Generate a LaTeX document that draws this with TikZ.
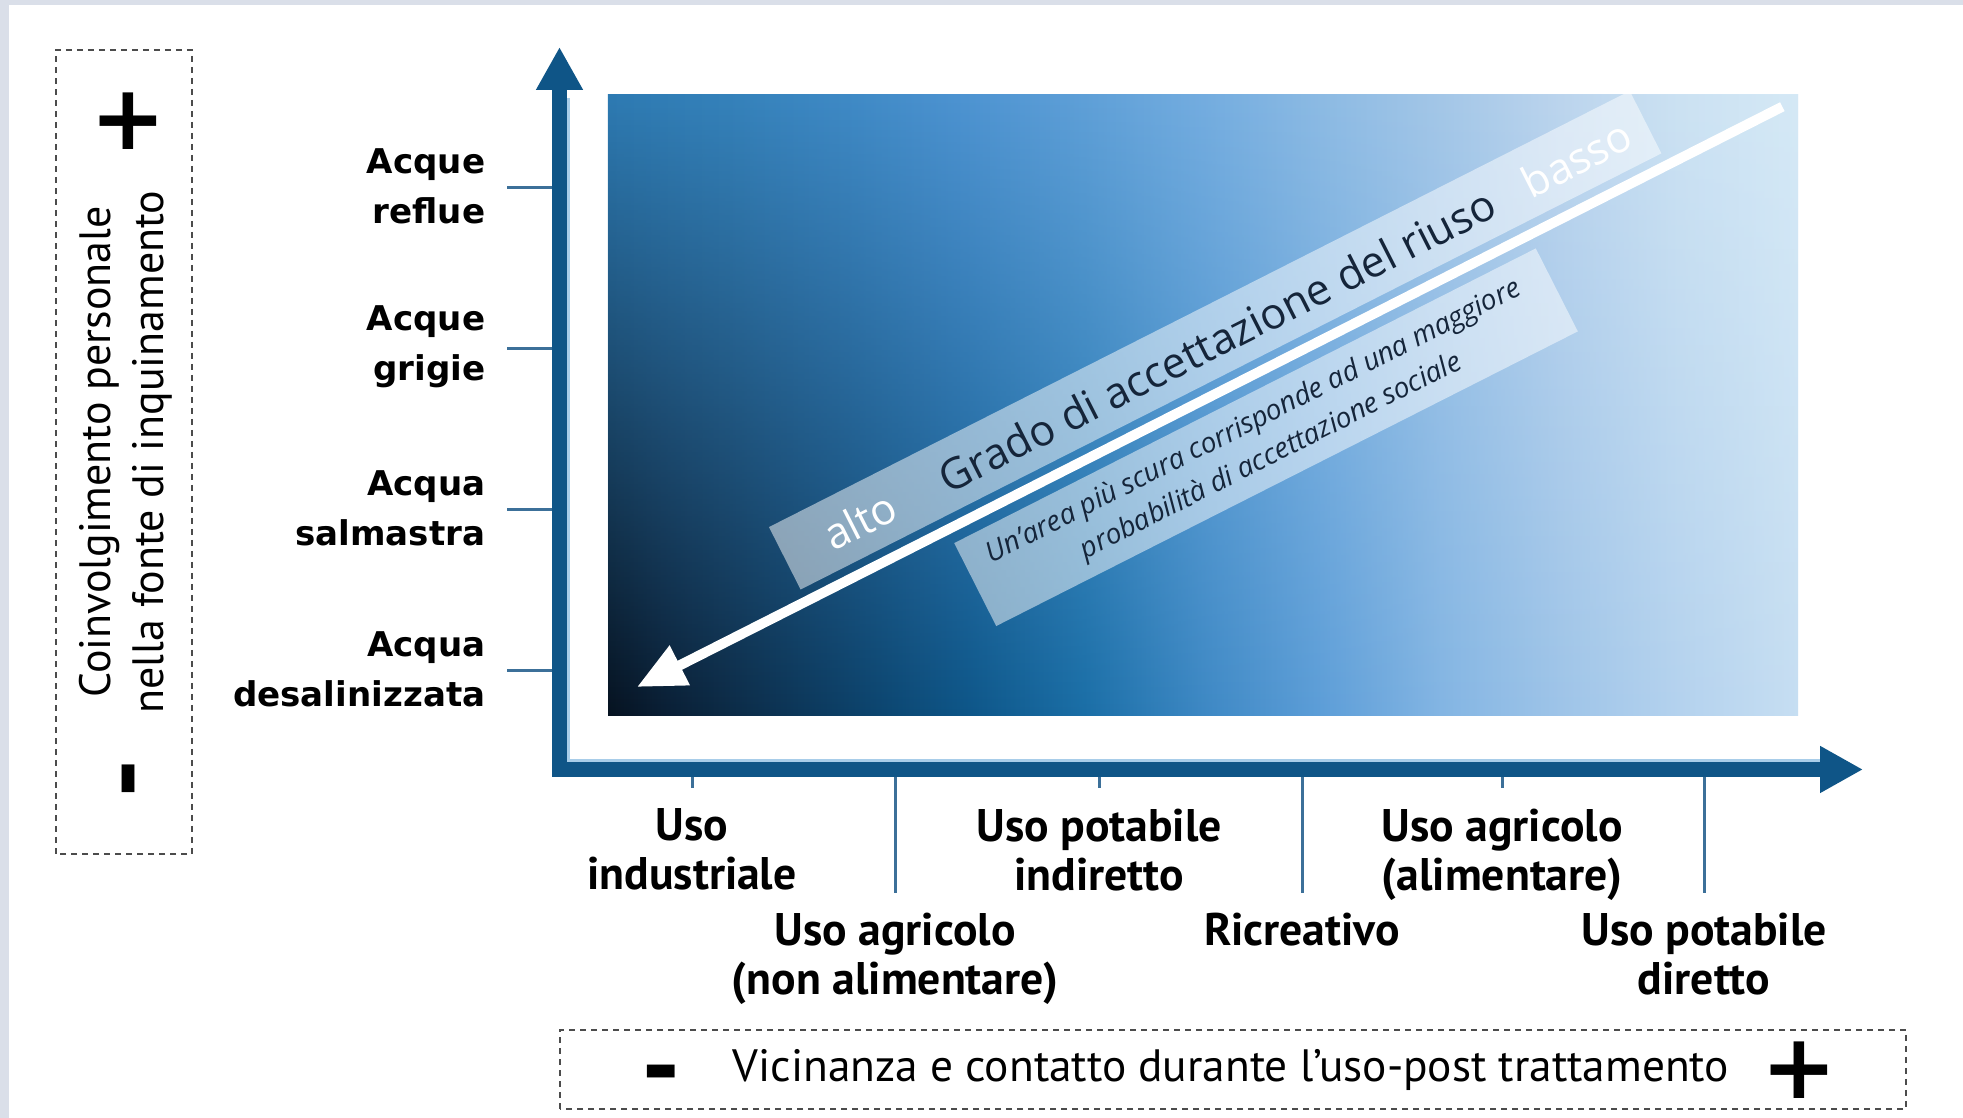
\documentclass[tikz,border=0pt]{standalone}
\usepackage{fontspec}
\setmainfont{PT Sans}
\newfontfamily\ylabfont{DejaVu Sans}
\newfontfamily\bandfont{Open Sans}
\usetikzlibrary{arrows.meta,positioning,fadings}

\definecolor{axisblue}{HTML}{0F5587}
\definecolor{tickblue}{HTML}{3C7099}
\definecolor{frameblue}{HTML}{DADFE9}
\definecolor{glowblue}{HTML}{A8CDE9}
\definecolor{bandtext}{HTML}{15253A}
% top row of the field
\definecolor{tA}{HTML}{2E7BB3}
\definecolor{tB}{HTML}{3582BB}
\definecolor{tC}{HTML}{3F8AC6}
\definecolor{tD}{HTML}{4E94D2}
\definecolor{tE}{HTML}{5FA0D8}
\definecolor{tF}{HTML}{74ADE0}
\definecolor{tG}{HTML}{8DBBE4}
\definecolor{tH}{HTML}{A4C7E8}
\definecolor{tI}{HTML}{BCD5EE}
\definecolor{tJ}{HTML}{CCE2F3}
\definecolor{tK}{HTML}{D5E9F6}
% bottom row of the field
\definecolor{bA}{HTML}{061220}
\definecolor{bB}{HTML}{0A1F35}
\definecolor{bC}{HTML}{0C2A45}
\definecolor{bD}{HTML}{0C3F66}
\definecolor{bE}{HTML}{0D5587}
\definecolor{bF}{HTML}{1A6EA6}
\definecolor{bG}{HTML}{3D88C4}
\definecolor{bH}{HTML}{5D9ED8}
\definecolor{bI}{HTML}{83B5E3}
\definecolor{bJ}{HTML}{9EC4E8}
\definecolor{bK}{HTML}{B4D2EE}
\definecolor{bL}{HTML}{C6DEF2}

\pgfdeclarehorizontalshading{fieldtop}{100bp}{color(0bp)=(tA); color(25bp)=(tA);
  color(30bp)=(tB); color(35bp)=(tC); color(40bp)=(tD); color(45bp)=(tE); color(50bp)=(tF);
  color(55bp)=(tG); color(60bp)=(tH); color(65bp)=(tI); color(70bp)=(tJ); color(75bp)=(tK); color(100bp)=(tK)}
\pgfdeclarehorizontalshading{fieldbottom}{100bp}{color(0bp)=(bA); color(25bp)=(bA);
  color(27.5bp)=(bB); color(30bp)=(bC); color(35bp)=(bD); color(40bp)=(bE); color(45bp)=(bF);
  color(50bp)=(bG); color(55bp)=(bH); color(60bp)=(bI); color(65bp)=(bJ); color(70bp)=(bK);
  color(75bp)=(bL); color(100bp)=(bL)}
\tikzfading[name=fade down, top color=transparent!0, middle color=transparent!62, bottom color=transparent!100]

\tikzset{
  axisline/.style={line width=0.15cm, axisblue},
  tickline/.style={line width=0.03cm, tickblue},
  ylab/.style={font=\ylabfont\bfseries\fontsize{9.7}{14.2}\selectfont, align=right, anchor=east, inner sep=0pt},
  xlab/.style={font=\bfseries\fontsize{13}{13.9}\selectfont, align=center, anchor=north, inner sep=0pt},
  dashbox/.style={draw=black!70, line width=0.02cm, dash pattern=on 0.06cm off 0.05cm},
  band/.style={fill=white, fill opacity=0.5},
  bandlab/.style={font=\bandfont\fontsize{12.2}{14}\selectfont, inner sep=0pt},
  signmark/.style={font=\ylabfont\bfseries\fontsize{25.7}{26}\selectfont, inner sep=0pt},
}

\begin{document}
\begin{tikzpicture}
    \useasboundingbox (0,0) rectangle (19.63,11.18);
    % Frame
    \fill[frameblue] (0,0) rectangle (19.63,11.18);
    \fill[white] (0.09,0) rectangle (19.63,11.13);

    % Acceptance field
    \shade[shading=fieldbottom] (6.08,4.02) rectangle (17.98,10.23);
    \shade[shading=fieldtop, path fading=fade down] (6.08,4.02) rectangle (17.98,10.23);

    % Bands and reuse arrow
    \begin{scope}
        \clip (6.08,4.02) rectangle (17.98,10.23);
        \begin{scope}[shift={(6.37,4.31)}, rotate=26.87, transform shape]
            \fill[band] (1.9,0.13) rectangle (11.55,0.83);
            \fill[band] (3.48,-0.15) rectangle (10.0,-1.08);
            \coordinate (tip) at (0,0);
            \coordinate (tail) at (12.84,0);
            \draw[white, line width=0.1cm, -{Triangle[length=0.48cm,width=0.42cm]}] (tail) -- (tip);
            \node[bandlab, text=white] (alto) at (2.74,0.48) {alto};
            \node[bandlab, text=bandtext] (grado) at (6.74,0.47) {Grado di accettazione del riuso};
            \node[bandlab, text=white] (basso) at (10.77,0.47) {basso};
            \node[font=\bandfont\itshape\fontsize{8}{11}\selectfont, text=bandtext, align=center] (nota) at (6.7,-0.62)
                {Un’area più scura corrisponde ad una maggiore\\probabilità di accettazione sociale};
        \end{scope}
    \end{scope}

    % Axes
    \coordinate (origin) at (5.595,3.485);
    \coordinate (ytop) at (5.595,10.71);
    \coordinate (xend) at (18.63,3.485);
    \draw[glowblue, line width=0.03cm] (5.685,10.2) -- (5.685,3.575) -- (18.2,3.575);
    \draw[axisline, {Triangle[length=0.43cm,width=0.44cm]}-{Triangle[length=0.43cm,width=0.44cm]}] (ytop) -- (origin) -- (xend);

    % Sources
    \foreach \y/\src [count=\i] in {4.47/{Acqua\\desalinizzata}, 6.08/{Acqua\\salmastra}, 7.69/{Acque\\grigie}, 9.30/{Acque\\reflue}} {
        \draw[tickline] (5.07,\y) -- (5.52,\y);
        \node[ylab] (src\i) at (4.86,\y+0.02) {\src};
    }

    % Uses
    \foreach \x/\tickend/\labtop/\use [count=\i] in {
        6.92/3.30/3.10/{Uso\\industriale},
        8.95/2.25/2.06/{Uso agricolo\\(non alimentare)},
        10.99/3.30/3.10/{Uso potabile\\indiretto},
        13.02/2.25/2.06/{Ricreativo},
        15.02/3.30/3.10/{Uso agricolo\\(alimentare)},
        17.04/2.25/2.06/{Uso potabile\\diretto}} {
        \draw[tickline] (\x,3.41) -- (\x,\tickend);
        \node[xlab] (use\i) at (\x,\labtop) {\use};
    }

    % Vertical legend
    \draw[dashbox] (0.56,2.64) rectangle (1.92,10.68);
    \node[signmark] (yplus) at (1.28,9.97) {+};
    \node[rotate=90, font=\fontsize{12.5}{15}\selectfont, align=center] (involve) at (1.26,6.66)
        {Coinvolgimento personale\\nella fonte di inquinamento};
    \node[signmark, rotate=90] (yminus) at (1.38,3.39) {-};

    % Horizontal legend
    \draw[dashbox] (5.60,0.09) rectangle (19.06,0.88);
    \node[signmark] (xminus) at (6.61,0.37) {-};
    \node[font=\fontsize{12.9}{15}\selectfont] (proximity) at (12.31,0.48)
        {Vicinanza e contatto durante l’uso-post trattamento};
    \node[signmark] (xplus) at (17.99,0.48) {+};
\end{tikzpicture}
\end{document}
